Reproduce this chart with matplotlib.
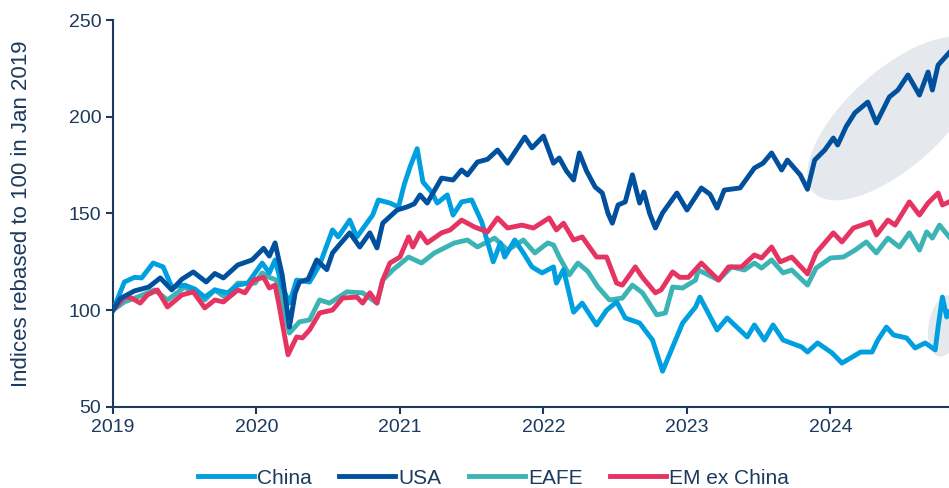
import numpy as np
import matplotlib
matplotlib.use("Agg")
import matplotlib.pyplot as plt
from matplotlib.patches import Ellipse
from matplotlib.transforms import ScaledTranslation

# index levels, rebased to 100 in Jan 2019
china_t = [2019.0, 2019.08, 2019.15, 2019.2, 2019.28, 2019.35, 2019.41, 2019.5, 2019.57, 2019.64,
           2019.71, 2019.8, 2019.87, 2019.94, 2020.04, 2020.09, 2020.13, 2020.18, 2020.23, 2020.28,
           2020.37, 2020.44, 2020.53, 2020.57, 2020.65, 2020.7, 2020.81, 2020.85, 2020.93, 2020.99,
           2021.03, 2021.07, 2021.12, 2021.16, 2021.22, 2021.26, 2021.33, 2021.37, 2021.43, 2021.5,
           2021.57, 2021.65, 2021.7, 2021.73, 2021.8, 2021.86, 2021.92, 2021.99, 2022.07, 2022.09,
           2022.14, 2022.21, 2022.27, 2022.37, 2022.44, 2022.51, 2022.57, 2022.67, 2022.76, 2022.83,
           2022.9, 2022.97, 2023.06, 2023.09, 2023.21, 2023.28, 2023.42, 2023.47, 2023.54, 2023.6,
           2023.67, 2023.8, 2023.84, 2023.91, 2024.01, 2024.08, 2024.14, 2024.21, 2024.29, 2024.33,
           2024.39, 2024.44, 2024.53, 2024.59, 2024.66, 2024.73, 2024.75, 2024.78, 2024.81, 2024.826]
china = [100, 114.6, 117, 116.7, 124.4, 122.4, 112, 113, 111, 106.8,
         110.5, 109, 113, 114, 124.4, 119.3, 126, 112, 103.7, 115.6,
         114.6, 123.4, 141.5, 137.9, 146.6, 137.9, 149.2, 157, 155.4, 153.4,
         165, 174, 183.5, 166.3, 161.1, 155.4, 159.6, 149.2, 156, 157,
         145.6, 125, 134.8, 127.5, 136.3, 129.6, 122.4, 119.3, 122.4, 114,
         121, 99, 103.7, 92.4, 100, 104.3, 96, 93.4, 84.6, 68.5,
         81, 93.4, 101.7, 106.8, 89.8, 96, 86.2, 92.4, 84.6, 92.4,
         84.6, 81, 78.4, 83.1, 78, 72.7, 75.3, 78.4, 78.4, 84.6,
         91.3, 87.2, 85.7, 80.5, 83.1, 79.5, 91.3, 106.8, 96.5, 99]

usa_t = [2019.0, 2019.05, 2019.1, 2019.15, 2019.25, 2019.33, 2019.41, 2019.48, 2019.56, 2019.65,
         2019.71, 2019.77, 2019.87, 2019.97, 2020.05, 2020.09, 2020.13, 2020.18, 2020.23, 2020.27,
         2020.3, 2020.36, 2020.42, 2020.49, 2020.53, 2020.58, 2020.65, 2020.72, 2020.79, 2020.84,
         2020.88, 2020.98, 2021.05, 2021.1, 2021.14, 2021.19, 2021.29, 2021.37, 2021.43, 2021.47,
         2021.54, 2021.61, 2021.68, 2021.75, 2021.87, 2021.92, 2022.0, 2022.07, 2022.11, 2022.16,
         2022.21, 2022.25, 2022.3, 2022.36, 2022.41, 2022.45, 2022.48, 2022.52, 2022.57, 2022.62,
         2022.67, 2022.7, 2022.74, 2022.78, 2022.83, 2022.93, 2023.0, 2023.1, 2023.16, 2023.21,
         2023.26, 2023.37, 2023.47, 2023.53, 2023.59, 2023.66, 2023.7, 2023.79, 2023.84, 2023.89,
         2023.96, 2024.02, 2024.05, 2024.11, 2024.17, 2024.26, 2024.32, 2024.41, 2024.47, 2024.54,
         2024.62, 2024.68, 2024.71, 2024.75, 2024.826]
usa = [100, 106, 108, 110, 112, 116.7, 110.5, 116, 119.8, 114.6,
       119, 116.7, 123.4, 126, 132, 128, 134.8, 118, 91.3, 109,
       114.6, 116, 126, 121, 129.6, 134, 140, 132.7, 140, 132.2,
       145, 151.8, 153.4, 155, 159.6, 155.4, 168.3, 167.3, 172.5, 169.9,
       176.6, 178, 182.8, 176, 189.5, 183.9, 190, 176, 178.7, 172,
       167.3, 181.3, 172, 163.7, 160.6, 150, 145, 154.4, 156, 170,
       155.4, 161.1, 150, 142.5, 150.3, 160.6, 151.8, 163.2, 160, 152.8,
       162.1, 163.2, 173.5, 176, 181.3, 172.5, 177.6, 169.9, 162.5, 177.6,
       182.8, 189, 185.4, 195, 202, 207.6, 196.8, 210.2, 213.8, 221.6,
       211.2, 223.1, 213.8, 226.7, 233]

eafe_t = [2019.0, 2019.08, 2019.17, 2019.29, 2019.38, 2019.5, 2019.64, 2019.71, 2019.78, 2019.87,
          2019.99, 2020.04, 2020.09, 2020.14, 2020.18, 2020.23, 2020.3, 2020.37, 2020.44, 2020.51,
          2020.63, 2020.74, 2020.84, 2020.88, 2020.95, 2021.06, 2021.15, 2021.24, 2021.38, 2021.47,
          2021.54, 2021.66, 2021.75, 2021.86, 2021.94, 2022.03, 2022.07, 2022.11, 2022.18, 2022.24,
          2022.31, 2022.38, 2022.46, 2022.55, 2022.62, 2022.69, 2022.79, 2022.85, 2022.9, 2022.97,
          2023.06, 2023.08, 2023.22, 2023.31, 2023.4, 2023.47, 2023.52, 2023.59, 2023.67, 2023.73,
          2023.84, 2023.9, 2024.0, 2024.09, 2024.17, 2024.25, 2024.32, 2024.4, 2024.48, 2024.55,
          2024.62, 2024.67, 2024.71, 2024.76, 2024.826]
eafe = [100, 104.3, 106.8, 110.5, 105.3, 112, 105.3, 110.5, 106.8, 114,
        114, 119.3, 117, 115.6, 103.7, 88.2, 94, 95, 105.3, 103.7,
        109.5, 109, 103.7, 115.6, 120.8, 127.5, 124.4, 129.6, 134.8, 136.3,
        132.7, 137.3, 131.1, 136.3, 129.6, 134.8, 133.7, 127.5, 118.3, 124.4,
        120, 112, 105.3, 106.3, 113, 109, 97.6, 98.6, 112, 111.5,
        115.6, 120.8, 115.6, 122.4, 120.8, 124.4, 121.8, 126, 119.3, 120.8,
        113, 121.8, 127, 127.5, 131, 135.3, 129.6, 137.3, 132.7, 140,
        131.1, 140.5, 137.3, 144, 138]

em_t = [2019.0, 2019.08, 2019.13, 2019.19, 2019.24, 2019.31, 2019.38, 2019.48, 2019.56, 2019.64,
        2019.71, 2019.77, 2019.87, 2019.92, 2019.98, 2020.05, 2020.09, 2020.13, 2020.16, 2020.22,
        2020.28, 2020.32, 2020.37, 2020.44, 2020.53, 2020.6, 2020.7, 2020.74, 2020.79, 2020.84,
        2020.88, 2020.93, 2021.0, 2021.06, 2021.09, 2021.14, 2021.19, 2021.29, 2021.35, 2021.43,
        2021.52, 2021.61, 2021.68, 2021.75, 2021.85, 2021.93, 2022.04, 2022.09, 2022.14, 2022.21,
        2022.27, 2022.37, 2022.44, 2022.51, 2022.55, 2022.64, 2022.69, 2022.78, 2022.82, 2022.9,
        2022.95, 2023.01, 2023.1, 2023.22, 2023.29, 2023.38, 2023.47, 2023.52, 2023.59, 2023.65,
        2023.73, 2023.84, 2023.9, 2024.02, 2024.08, 2024.16, 2024.28, 2024.32, 2024.4, 2024.45,
        2024.55, 2024.62, 2024.68, 2024.75, 2024.78, 2024.826]
em = [100, 106.8, 106.3, 103.7, 107.9, 110.5, 101.7, 107.9, 109.5, 101.2,
      105.3, 104.3, 110.5, 109, 115.6, 117, 111.5, 113, 101.7, 77,
      86.2, 85.7, 89.8, 98.6, 100.1, 106.3, 106.8, 103.7, 109, 103.7,
      115.6, 124.4, 127.5, 137.9, 132.7, 140, 134.8, 140, 141.5, 146.6,
      143, 140.5, 147.7, 142.5, 144, 142.5, 147.7, 141.5, 145, 136.3,
      137.9, 127.5, 127.5, 114, 113, 122.4, 117, 109, 110.5, 119.8,
      117, 117, 124.4, 115.6, 122.4, 122.4, 128.6, 127, 132.7, 125,
      127.5, 118.8, 129.6, 140, 135.3, 142.5, 145.6, 138.9, 146.6, 144,
      156, 149.2, 155.4, 160.6, 154.4, 156]

years = [2019, 2020, 2021, 2022, 2023, 2024]

txt = '#1c3a5e'
plt.rcParams['font.family'] = ['Liberation Sans', 'DejaVu Sans']

fig = plt.figure(figsize=(9.49, 4.88), dpi=100)
ax = fig.add_axes([0.119, 0.166, 0.881, 0.793])

# highlight ellipses (sizes in inches, centred on data points)
for (cx, cy), w, h, ang in [((2024.45, 199.1), 2.2, 0.96, 42), ((2024.795, 91.9), 0.32, 0.62, -10)]:
    tr = fig.dpi_scale_trans + ScaledTranslation(cx, cy, ax.transData)
    ax.add_patch(Ellipse((0, 0), w, h, angle=ang, transform=tr, facecolor='#e5e9ee',
                         edgecolor='none', zorder=1))

lw = 3.5
l_eafe, = ax.plot(eafe_t, eafe, color='#3cb4b6', lw=lw, zorder=2, label='EAFE')
l_china, = ax.plot(china_t, china, color='#009fe0', lw=lw, zorder=3, label='China')
l_em, = ax.plot(em_t, em, color='#e63462', lw=lw, zorder=4, label='EM ex China')
l_usa, = ax.plot(usa_t, usa, color='#00509d', lw=lw, zorder=5, label='USA')

ax.set_xlim(2019, 2024.826)
ax.set_ylim(50, 250)
ax.set_xticks(years)
ax.set_xticklabels([str(y) for y in years])
ax.set_yticks([50, 100, 150, 200, 250])
ax.set_ylabel('Indices rebased to 100 in Jan 2019', fontsize=16, color=txt, labelpad=26)

for s in ['top', 'right']:
    ax.spines[s].set_visible(False)
for s in ['left', 'bottom']:
    ax.spines[s].set_color(txt)
    ax.spines[s].set_linewidth(1.5)
ax.tick_params(colors=txt, labelcolor=txt, labelsize=14, width=1.5, length=5)

fig.legend(handles=[l_china, l_usa, l_eafe, l_em], loc='center', bbox_to_anchor=(0.52, 0.02),
           ncol=4, frameon=False, fontsize=15, handlelength=2.7, handletextpad=0.15,
           columnspacing=1.3, labelcolor=txt)

fig.savefig('out.png', dpi=100)
